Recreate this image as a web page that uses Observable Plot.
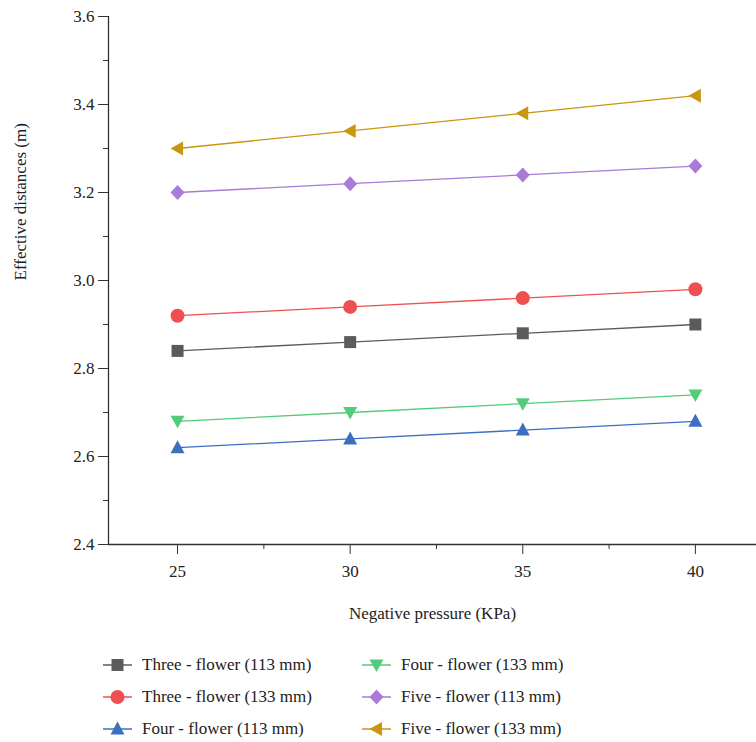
<!DOCTYPE html>
<html><head><meta charset="utf-8">
<script src="https://cdn.jsdelivr.net/npm/d3@7"></script>
<script src="https://cdn.jsdelivr.net/npm/@observablehq/plot@0.6"></script>
<style>
body{margin:0;background:#fff;font-family:"Liberation Serif","Times New Roman",serif;}
#legend{position:relative;width:756px;height:102px;font-size:17px;color:#222;}
.item{position:absolute;display:flex;align-items:center;height:24px;}
.item svg{margin-right:10px;}
svg text{font-family:"Liberation Serif","Times New Roman",serif;}
</style></head>
<body>
<div id="chart"></div>
<div id="legend"></div>
<script>
const pressures = [25, 30, 35, 40];
const seriesNames = ["Three - flower (113 mm)","Three - flower (133 mm)","Four - flower (113 mm)","Four - flower (133 mm)","Five - flower (113 mm)","Five - flower (133 mm)"];
const three113 = [2.84, 2.86, 2.88, 2.90];
const three133 = [2.92, 2.94, 2.96, 2.98];
const four113 = [2.62, 2.64, 2.66, 2.68];
const four133 = [2.68, 2.70, 2.72, 2.74];
const five113 = [3.20, 3.22, 3.24, 3.26];
const five133 = [3.30, 3.34, 3.38, 3.42];
const yTicks = [2.4, 2.6, 2.8, 3.0, 3.2, 3.4, 3.6];
const yMinor = [2.5, 2.7, 2.9, 3.1, 3.3, 3.5];
const xTicks = [25, 30, 35, 40];
const xMinor = [27.5, 32.5, 37.5];

const colors = ["#5b5b5b","#ef4f4f","#3d6fc0","#52cc78","#a97ad6","#c9960f"];
const symSquare = {draw(c){c.moveTo(-6,-6); c.lineTo(6,-6); c.lineTo(6,6); c.lineTo(-6,6); c.closePath();}};
const symCircle = {draw(c){c.moveTo(7,0); c.arc(0,0,7,0,2*Math.PI); c.closePath();}};
const symUp = {draw(c){c.moveTo(0,-7.5); c.lineTo(7,5.5); c.lineTo(-7,5.5); c.closePath();}};
const symDown = {draw(c){c.moveTo(-7,-5.5); c.lineTo(7,-5.5); c.lineTo(0,7); c.closePath();}};
const symDiamond = {draw(c){c.moveTo(0,-7.5); c.lineTo(7,0); c.lineTo(0,7.5); c.lineTo(-7,0); c.closePath();}};
const symLeft = {draw(c){c.moveTo(-7,0); c.lineTo(5.5,-7); c.lineTo(5.5,7); c.closePath();}};
const symbols = [symSquare, symCircle, symUp, symDown, symDiamond, symLeft];
const allSeries = [three113, three133, four113, four133, five113, five133];

const data = [];
allSeries.forEach((vals, i) => vals.forEach((v, j) => data.push({series: seriesNames[i], idx: i, x: pressures[j], y: v})));

const marks = [];
allSeries.forEach((vals, i) => {
  const d = data.filter(r => r.idx === i);
  marks.push(Plot.line(d, {x: "x", y: "y", stroke: colors[i], strokeWidth: 1.3}));
  marks.push(Plot.dot(d, {x: "x", y: "y", fill: colors[i], symbol: symbols[i], r: 5, stroke: "none"}));
});

const chart = Plot.plot({
  width: 756, height: 640,
  marginLeft: 108, marginTop: 16, marginBottom: 96, marginRight: 0,
  style: {fontFamily: "'Liberation Serif', 'Times New Roman', serif", fontSize: "17px", color: "#222", background: "#fff"},
  x: {domain: [23, 41.77]},
  y: {domain: [2.4, 3.6]},
  marks: [
    Plot.axisY({ticks: yTicks, tickSize: 10, tickPadding: 4, tickFormat: d3.format(".1f"), fontSize: 17, label: null, stroke: "#333"}),
    Plot.axisY({ticks: yMinor, tickSize: 5, tickFormat: () => "", label: null, stroke: "#333"}),
    Plot.axisX({ticks: xTicks, tickSize: 10, tickPadding: 10, fontSize: 17, label: null, stroke: "#333"}),
    Plot.axisX({ticks: xMinor, tickSize: 5, tickFormat: () => "", label: null, stroke: "#333"}),
    Plot.ruleX([23], {stroke: "#333", strokeWidth: 1.3}),
    Plot.ruleY([2.4], {stroke: "#333", strokeWidth: 1.3}),
    Plot.text(["Effective distances (m)"], {frameAnchor: "left", dx: -88, rotate: -90, fontSize: 17, fill: "#222"}),
    Plot.text(["Negative pressure (KPa)"], {frameAnchor: "bottom", dy: 74, fontSize: 17, fill: "#222"}),
    ...marks
  ]
});
document.getElementById("chart").appendChild(chart);

// legend
const leg = document.getElementById("legend");
const pos = [[103,13],[103,45],[103,77],[362,13],[362,45],[362,77]];
seriesNames.forEach((name, i) => {
  const div = document.createElement("div");
  div.className = "item";
  div.style.left = pos[i][0] + "px";
  div.style.top = (pos[i][1]) + "px";
  const p = d3.symbol(symbols[i], 64)();
  div.innerHTML = `<svg width="29" height="24"><line x1="0" x2="29" y1="12" y2="12" stroke="${colors[i]}" stroke-width="1.5"/><path transform="translate(14.5,12)" d="${p}" fill="${colors[i]}"/></svg><span>${name}</span>`;
  leg.appendChild(div);
});
</script>
</body></html>
